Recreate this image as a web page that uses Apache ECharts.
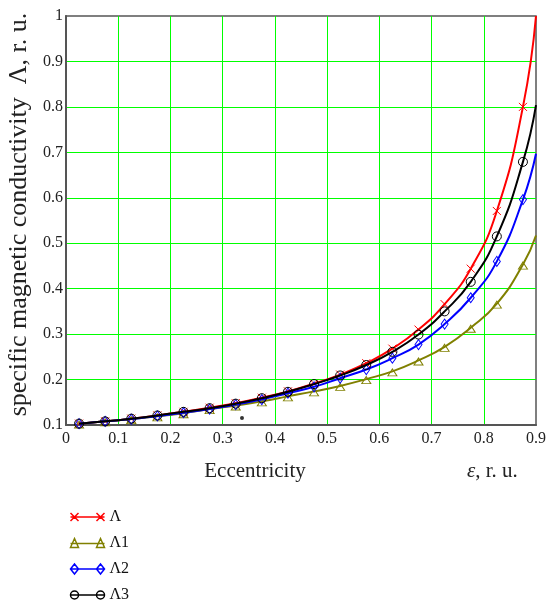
<!DOCTYPE html>
<html>
<head>
<meta charset="utf-8">
<title>Specific magnetic conductivity vs eccentricity</title>
<script src="https://cdn.jsdelivr.net/npm/echarts@6/dist/echarts.min.js"></script>
<style>
  html, body { margin: 0; padding: 0; background: #ffffff; }
  #chart { width: 549px; height: 604px; }
</style>
</head>
<body>
<div id="chart"></div>
<script>
// Eccentricity values (r. u.) where the curves are sampled; markers sit on all but the last one.
const eccentricity = [0.025, 0.075, 0.125, 0.175, 0.225, 0.275, 0.325, 0.375, 0.425,
                      0.475, 0.525, 0.575, 0.625, 0.675, 0.725, 0.775, 0.825, 0.875, 0.9];

// Specific magnetic conductivity (r. u.) for each model.
const lambda0 = [0.103, 0.108, 0.114, 0.121, 0.129, 0.138, 0.148, 0.160, 0.174,
                 0.191, 0.211, 0.236, 0.268, 0.310, 0.366, 0.444, 0.571, 0.800, 1.000];
const lambda1 = [0.103, 0.108, 0.113, 0.119, 0.126, 0.135, 0.143, 0.152, 0.163,
                 0.174, 0.186, 0.201, 0.218, 0.242, 0.272, 0.314, 0.367, 0.453, 0.517];
const lambda2 = [0.103, 0.108, 0.113, 0.120, 0.127, 0.135, 0.145, 0.156, 0.170,
                 0.184, 0.203, 0.222, 0.247, 0.277, 0.322, 0.380, 0.460, 0.596, 0.697];
const lambda3 = [0.103, 0.108, 0.114, 0.121, 0.129, 0.137, 0.147, 0.159, 0.173,
                 0.190, 0.209, 0.232, 0.261, 0.299, 0.350, 0.415, 0.515, 0.679, 0.804];

// Stray point near the bottom of the plot.
const strayPoint = [[0.337, 0.1155]];

const seriesNames = ['\u039B', '\u039B1', '\u039B2', '\u039B3'];

function buildData(values) {
  const last = eccentricity.length - 1;
  return eccentricity.map((e, i) =>
    i === last ? { value: [e, values[i]], symbol: 'none' } : [e, values[i]]);
}

const serif = 'Liberation Serif, Times New Roman, serif';
const textColor = '#222222';
const borderColor = '#555555';

const crossSymbol = 'path://M0,0L10,10M10,0L0,10';

// Legend icons: a line with two markers on it.
const legendIcons = [
  'path://M0,5L34,5M0,1L8,9M8,1L0,9M26,1L34,9M34,1L26,9',
  'path://M0,5L34,5M4,0L8,9L0,9ZM30,0L34,9L26,9Z',
  'path://M0,5L34,5M4,0L8,5L4,10L0,5ZM30,0L34,5L30,10L26,5Z',
  'path://M0,5L34,5M0,5A4,4 0 1,0 8,5A4,4 0 1,0 0,5M26,5A4,4 0 1,0 34,5A4,4 0 1,0 26,5'
];
const colors = ['#ff0000', '#808000', '#0000ff', '#000000'];

function lineSeries(idx, values, symbol, symbolSize, extra) {
  return Object.assign({
    name: seriesNames[idx],
    type: 'line',
    data: buildData(values),
    smooth: true,
    showAllSymbol: true,
    symbol: symbol,
    symbolSize: symbolSize,
    lineStyle: { color: colors[idx], width: 2 },
    itemStyle: { color: 'none', borderColor: colors[idx], borderWidth: 1 },
    emphasis: { disabled: true },
    z: 3 + idx
  }, extra || {});
}

const chart = echarts.init(document.getElementById('chart'), null, { renderer: 'canvas' });

chart.setOption({
  animation: false,
  backgroundColor: '#ffffff',
  grid: {
    left: 66, right: 13, top: 16, bottom: 179,
    show: true,
    borderColor: borderColor,
    borderWidth: 1.5,
    containLabel: false,
    outerBoundsMode: 'none'
  },
  xAxis: {
    type: 'value',
    min: 0, max: 0.9, interval: 0.1,
    name: 'Eccentricity',
    nameLocation: 'middle',
    nameGap: 36,
    nameTextStyle: { fontFamily: serif, fontSize: 21, color: textColor, padding: [0, 92, 0, 0] },
    axisLine: { show: true, lineStyle: { color: borderColor, width: 2 } },
    axisTick: { show: false },
    axisLabel: { fontFamily: serif, fontSize: 16, color: textColor, margin: 6 },
    splitLine: { show: true, showMinLine: false, showMaxLine: false,
                 lineStyle: { color: '#00ff00', width: 1 } }
  },
  yAxis: {
    type: 'value',
    min: 0.1, max: 1, interval: 0.1,
    name: 'specific magnetic conductivity  \u039B, r. u.',
    nameLocation: 'middle',
    nameGap: 34,
    nameTextStyle: { fontFamily: serif, fontSize: 26, color: textColor, padding: [0, 0, 0, 12] },
    axisLine: { show: true, lineStyle: { color: borderColor, width: 2 } },
    axisTick: { show: false },
    axisLabel: { fontFamily: serif, fontSize: 16, color: textColor, margin: 3 },
    splitLine: { show: true, showMinLine: false, showMaxLine: false,
                 lineStyle: { color: '#00ff00', width: 1 } }
  },
  legend: {
    orient: 'vertical',
    left: 68,
    top: 509,
    height: 100,
    itemWidth: 34,
    itemHeight: 10,
    itemGap: 10,
    padding: 0,
    selectedMode: false,
    textStyle: { fontFamily: serif, fontSize: 16, color: '#111111' },
    data: seriesNames.map((n, i) => ({
      name: n,
      icon: legendIcons[i],
      itemStyle: { color: 'none', borderColor: colors[i], borderWidth: 1.5 }
    }))
  },
  graphic: [{
    type: 'text',
    left: 467,
    top: 461,
    style: {
      text: '{e|\u03B5}, r. u.',
      font: '21px ' + serif,
      fill: textColor,
      rich: { e: { fontStyle: 'italic', fontFamily: serif, fontSize: 21, fill: textColor } }
    }
  }],
  series: [
    lineSeries(0, lambda0, crossSymbol, 8),
    lineSeries(1, lambda1, 'triangle', [9, 7], { symbolOffset: [0, 1] }),
    lineSeries(2, lambda2, 'diamond', [7, 10]),
    lineSeries(3, lambda3, 'circle', 9),
    {
      type: 'scatter',
      data: strayPoint,
      symbol: 'circle',
      symbolSize: 4,
      itemStyle: { color: '#000000' },
      emphasis: { disabled: true },
      silent: true,
      z: 2
    }
  ]
});
</script>
</body>
</html>
